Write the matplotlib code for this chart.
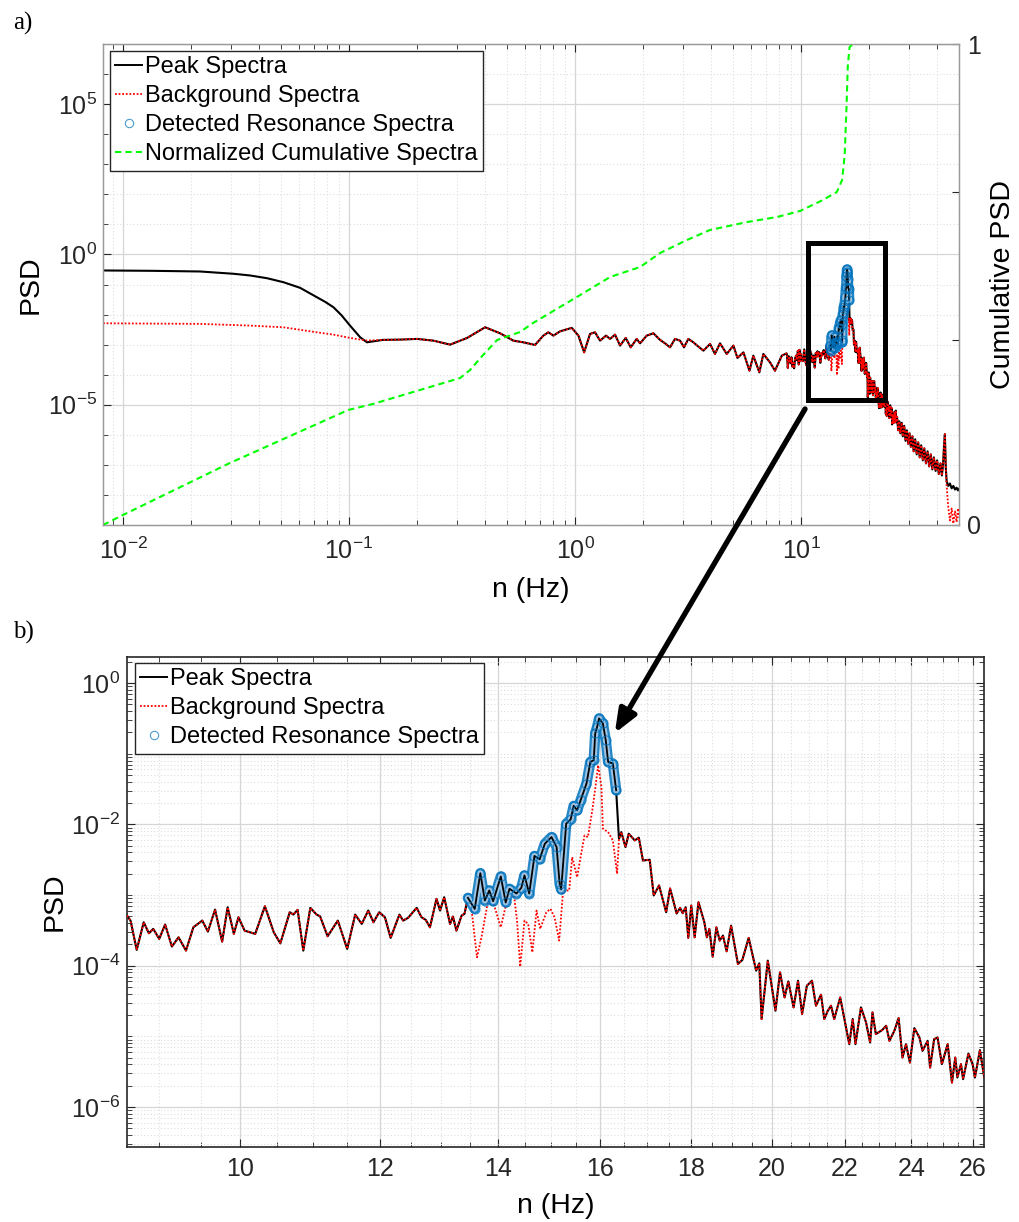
import numpy as np
import matplotlib
matplotlib.use("Agg")
import matplotlib.pyplot as plt
from matplotlib.lines import Line2D
from matplotlib.patches import Rectangle, ConnectionPatch
from matplotlib.ticker import FixedLocator, NullFormatter, NullLocator, FuncFormatter, LogLocator

plt.rcParams['font.family'] = ['Liberation Sans', 'DejaVu Sans']
plt.rcParams['mathtext.fontset'] = 'custom'
plt.rcParams['mathtext.rm'] = 'Liberation Sans'
plt.rcParams['mathtext.it'] = 'Liberation Sans:italic'
plt.rcParams['mathtext.bf'] = 'Liberation Sans:bold'

# ---------------- spectra (frequency in Hz, PSD given as log10) ----------------
# low-frequency part of the peak spectrum (only shown in the full-range panel)
f_low = np.array([0.00815, 0.0135, 0.0219, 0.0308, 0.0365, 0.0433, 0.0512, 0.0607, 0.0720, 0.0785,
                  0.0853, 0.0925, 0.101, 0.112, 0.120, 0.141, 0.168, 0.200, 0.236, 0.280,
                  0.333, 0.400, 0.466, 0.533, 0.590, 0.665, 0.724, 0.762, 0.802, 0.859,
                  0.967, 1.035, 1.097, 1.165, 1.225, 1.290, 1.371, 1.429, 1.503, 1.582,
                  1.676, 1.763, 1.874, 1.939, 2.076, 2.222, 2.378, 2.501, 2.633, 2.768,
                  2.915, 3.035, 3.171, 3.339, 3.514, 3.698, 3.958, 4.16, 4.38, 4.69,
                  5.02, 5.23, 5.56, 5.91, 6.15, 6.54, 6.81, 7.29, 7.67, 8.22])
log_peak_low = np.array([-0.533, -0.545, -0.567, -0.643, -0.700, -0.790, -0.923, -1.110, -1.423, -1.580,
                         -1.757, -2.020, -2.367, -2.757, -2.923, -2.843, -2.833, -2.810, -2.867, -3.000,
                         -2.777, -2.423, -2.623, -2.867, -2.923, -3.010, -2.700, -2.590, -2.700, -2.557,
                         -2.443, -2.700, -3.257, -2.643, -2.590, -2.867, -2.700, -2.810, -2.667, -3.033,
                         -2.777, -3.090, -2.810, -2.957, -2.700, -2.623, -2.843, -2.957, -3.090, -2.810,
                         -2.867, -3.090, -2.810, -2.923, -3.067, -3.200, -2.977, -3.310, -2.957, -3.310,
                         -3.033, -3.443, -3.257, -3.867, -3.367, -3.923, -3.310, -3.590, -3.867, -3.367])

# background spectrum where it departs from the peak spectrum at low frequency
f_bg_low = np.array([0.00815, 0.0219, 0.0365, 0.0512, 0.0720, 0.0853, 0.101, 0.120])
log_bg_low = np.array([-2.290, -2.310, -2.367, -2.423, -2.590, -2.667, -2.777, -2.867])

# zoomed band 8.6 - 26.4 Hz
f_mid = np.array([8.63, 8.67, 8.74, 8.82, 8.88, 8.93, 9.00, 9.07, 9.15, 9.23,
                  9.32, 9.41, 9.52, 9.59, 9.68, 9.77, 9.84, 9.92, 9.98, 10.06,
                  10.20, 10.33, 10.45, 10.54, 10.67, 10.72, 10.78, 10.86, 10.96, 11.05,
                  11.10, 11.21, 11.36, 11.50, 11.62, 11.72, 11.82, 11.90, 11.99, 12.08,
                  12.17, 12.31, 12.37, 12.45, 12.59, 12.67, 12.74, 12.81, 12.92, 12.98,
                  13.05, 13.15, 13.20, 13.26, 13.35, 13.40, 13.46, 13.58, 13.68, 13.76,
                  13.84, 13.91, 14.05, 14.14, 14.21, 14.34, 14.43, 14.49, 14.58, 14.68,
                  14.78, 14.88, 15.01, 15.11, 15.17, 15.20, 15.30, 15.39, 15.45, 15.52,
                  15.59, 15.71, 15.79, 15.86, 15.89, 15.93, 15.97, 16.05, 16.11, 16.16,
                  16.26, 16.33, 16.39, 16.44, 16.53, 16.60, 16.73, 16.82, 16.91, 17.06,
                  17.15, 17.27, 17.43, 17.52, 17.67, 17.75, 17.81, 17.88, 17.94, 18.01,
                  18.09, 18.18, 18.32, 18.38, 18.44, 18.52, 18.61, 18.69, 18.77, 18.86,
                  18.97, 19.14, 19.25, 19.41, 19.60, 19.68, 19.74, 19.90, 20.10, 20.22,
                  20.34, 20.44, 20.58, 20.70, 20.81, 20.94, 21.08, 21.19, 21.33, 21.42,
                  21.52, 21.61, 21.70, 21.87, 21.99, 22.13, 22.23, 22.31, 22.47, 22.62,
                  22.74, 22.81, 22.91, 23.10, 23.22, 23.32, 23.47, 23.60, 23.72, 23.83,
                  23.95, 24.09, 24.25, 24.35, 24.51, 24.59, 24.72, 24.83, 24.97, 25.16,
                  25.30, 25.41, 25.48, 25.60, 25.67, 25.85, 25.99, 26.07, 26.24, 26.39])
log_peak_mid = np.array([-3.291, -3.362, -3.777, -3.386, -3.542, -3.479, -3.621, -3.418, -3.730, -3.599,
                         -3.787, -3.457, -3.362, -3.518, -3.206, -3.660, -3.173, -3.550, -3.315, -3.504,
                         -3.550, -3.159, -3.528, -3.684, -3.244, -3.277, -3.210, -3.787, -3.182, -3.277,
                         -3.301, -3.584, -3.362, -3.763, -3.277, -3.409, -3.220, -3.386, -3.244, -3.315,
                         -3.607, -3.277, -3.362, -3.323, -3.182, -3.315, -3.352, -3.457, -3.054, -3.220,
                         -3.031, -3.409, -3.305, -3.504, -3.291, -3.267, -3.040, -3.196, -2.691, -3.078,
                         -2.936, -3.088, -2.738, -3.106, -2.912, -2.979, -2.898, -2.723, -2.979, -2.447,
                         -2.494, -2.274, -2.180, -2.322, -2.841, -2.922, -1.990, -1.929, -1.738, -1.801,
                         -1.660, -1.423, -1.116, -1.092, -0.713, -0.620, -0.501, -0.572, -0.809, -1.116,
                         -1.139, -1.518, -2.203, -2.109, -2.322, -2.132, -2.227, -2.189, -2.511, -2.501,
                         -3.007, -2.865, -3.244, -2.908, -3.262, -3.182, -3.258, -3.173, -3.607, -3.149,
                         -3.599, -3.102, -3.386, -3.599, -3.479, -3.872, -3.457, -3.645, -3.574, -3.797,
                         -3.433, -3.976, -3.919, -3.607, -4.071, -3.967, -4.756, -3.929, -4.638, -4.095,
                         -4.450, -4.223, -4.591, -4.213, -4.685, -4.284, -4.213, -4.567, -4.411, -4.756,
                         -4.638, -4.567, -4.756, -4.450, -4.756, -5.111, -4.756, -5.111, -4.591, -4.804,
                         -5.088, -4.662, -4.969, -4.912, -4.851, -5.064, -4.922, -4.742, -5.301, -5.111,
                         -5.372, -4.884, -5.017, -5.206, -5.064, -5.443, -5.040, -5.017, -5.394, -5.111,
                         -5.655, -5.301, -5.584, -5.394, -5.607, -5.244, -5.394, -5.584, -5.196, -5.584])

# background spectrum under the resonance
f_res = np.array([13.52, 13.62, 13.70, 13.82, 13.92, 14.05, 14.12, 14.18, 14.28, 14.35,
                  14.41, 14.49, 14.56, 14.64, 14.72, 14.79, 14.91, 14.99, 15.07, 15.16,
                  15.24, 15.36, 15.42, 15.52, 15.59, 15.67, 15.74, 15.83, 15.90, 15.95,
                  16.02, 16.05, 16.16, 16.26, 16.35])
log_bg_res = np.array([-3.173, -3.882, -3.599, -3.078, -3.125, -3.457, -3.220, -3.031, -2.912, -3.362,
                       -4.014, -3.362, -3.409, -3.811, -3.220, -3.479, -3.244, -3.196, -3.315, -3.645,
                       -2.936, -2.936, -2.464, -2.748, -2.464, -2.156, -2.180, -1.801, -1.447, -1.163,
                       -1.471, -2.061, -2.109, -2.227, -2.699])

# detected resonance band
res_lo, res_hi = 13.45, 16.34

# high-frequency tail up to Nyquist
f_high = np.array([26.6, 26.9, 27.2, 27.5, 27.9, 28.2, 28.6, 29.0, 29.4, 29.8,
                   30.2, 30.6, 31.1, 31.5, 32.0, 32.5, 33.0, 33.5, 34.0, 34.6,
                   35.1, 35.7, 36.3, 36.9, 37.5, 38.1, 38.7, 39.4, 40.0, 40.7,
                   41.4, 42.0, 42.5, 42.9, 43.3, 43.7, 44.1, 44.8, 45.6, 46.4,
                   47.2, 48.0, 48.8, 49.5, 50.0])
log_peak_high = np.array([-5.40, -5.85, -5.55, -5.95, -5.60, -6.05, -5.70, -6.20, -5.85, -6.30,
                          -5.95, -6.40, -6.05, -6.55, -6.15, -6.65, -6.25, -6.75, -6.35, -6.85,
                          -6.45, -6.95, -6.55, -7.05, -6.65, -7.15, -6.75, -7.20, -6.85, -7.30,
                          -6.95, -7.35, -7.00, -6.40, -5.98, -7.10, -7.55, -7.70, -7.62, -7.78,
                          -7.70, -7.82, -7.76, -7.85, -7.80])
f_bg_tail = np.array([44.1, 44.8, 45.6, 46.4, 47.2, 48.0, 48.8, 49.5, 50.0])
log_bg_tail = np.array([-7.70, -8.40, -8.85, -8.45, -8.95, -8.55, -8.90, -8.45, -8.75])

# normalized cumulative spectrum (right axis, log10)
f_cum = np.array([0.00815, 0.01, 0.0297, 0.0991, 0.1277, 0.31, 0.343, 0.392, 0.452, 0.571,
                  0.652, 1.02, 1.43, 1.94, 2.38, 3.13, 3.95, 5.77, 7.83, 9.91,
                  12.5, 14.4, 15.2, 15.6, 15.9, 16.1, 16.4, 17.0, 50.0])
log_cum = np.array([-3.25, -3.182, -2.831, -2.473, -2.432, -2.257, -2.203, -2.101, -2.0, -1.946,
                    -1.885, -1.709, -1.574, -1.507, -1.412, -1.324, -1.257, -1.203, -1.169, -1.128,
                    -1.054, -1.0, -0.919, -0.75, -0.42, -0.15, -0.02, 0.0, 0.0])

# ---------------- assemble series ----------------
keep_lo = f_mid < f_res[0]
keep_hi = f_mid > f_res[-1]
f_bg_mid = np.concatenate([f_mid[keep_lo], f_res, f_mid[keep_hi]])
log_bg_mid = np.concatenate([log_peak_mid[keep_lo], log_bg_res, log_peak_mid[keep_hi]])

det = (f_mid >= res_lo) & (f_mid <= res_hi)
f_det, psd_det = f_mid[det], 10.0 ** log_peak_mid[det]

f_top = np.concatenate([f_low, f_mid, f_high])
psd_top = 10.0 ** np.concatenate([log_peak_low, log_peak_mid, log_peak_high])

lo_rest = f_low > f_bg_low[-1]
hi_rest = f_high < f_bg_tail[0]
f_bg_top = np.concatenate([f_bg_low, f_low[lo_rest], f_bg_mid, f_high[hi_rest], f_bg_tail])
bg_top = 10.0 ** np.concatenate([log_bg_low, log_peak_low[lo_rest], log_bg_mid,
                                 log_peak_high[hi_rest], log_bg_tail])

BLUE = '#0072BD'
TXT = '#262626'
GRID_MAJ = '#d6d6d6'
GRID_MIN = '#dedede'
TICK_FS = 18
LABEL_FS = 20.5


def decade_label(v, pos):
    return r'$\mathregular{10^{%d}}$' % int(round(np.log10(v)))


def draw_spectra(ax, f_pk, pk, f_bg, bg):
    ax.plot(f_pk, pk, color='k', lw=1.5, zorder=2, solid_joinstyle='round')
    ax.plot(f_bg, bg, color='#ff0000', lw=1.3, dashes=(1, 1), zorder=3)
    # detected resonance: band of overlapping circles with the peak trace on top
    ax.plot(f_det, psd_det, color=BLUE, lw=7.5, alpha=0.85, zorder=4,
            solid_capstyle='round', solid_joinstyle='round')
    ax.plot(f_det, psd_det, color='#9cc3e4', lw=4.2, zorder=4.1,
            solid_capstyle='round', solid_joinstyle='round')
    ax.plot(f_det, psd_det, color='k', lw=1.3, zorder=4.2, solid_joinstyle='round')
    ax.plot(f_det, psd_det, 'o', mfc='none', mec=BLUE, ms=6.5, mew=0.8, alpha=0.8, zorder=4.3)


def grid_and_ticks(ax, spine_color):
    for s in ax.spines.values():
        s.set_color(spine_color)
        s.set_linewidth(1.0)
    ax.tick_params(which='both', direction='in', top=True, color=TXT,
                   labelcolor=TXT, labelsize=TICK_FS)
    ax.tick_params(which='major', length=6)
    ax.tick_params(which='minor', length=3.5)
    ax.grid(True, which='major', color=GRID_MAJ, lw=0.9, ls='-')
    ax.grid(True, which='minor', color=GRID_MIN, lw=0.8, ls=(0, (1, 2)))
    ax.set_axisbelow(True)


fig = plt.figure(figsize=(10.19, 12.22), dpi=100)
fig.patch.set_facecolor('white')

# ---------------- a) full spectrum ----------------
ax1 = fig.add_axes([103 / 1019, 1 - 525 / 1222, 856 / 1019, 481 / 1222])
ax1.set_xscale('log')
ax1.set_yscale('log')
draw_spectra(ax1, f_top, psd_top, f_bg_top, bg_top)
ax1.set_xlim(0.00815, 50)
ax1.set_ylim(1e-9, 1e7)
ax1.xaxis.set_major_locator(FixedLocator([1e-2, 1e-1, 1e0, 1e1]))
ax1.xaxis.set_major_formatter(FuncFormatter(decade_label))
ax1.xaxis.set_minor_locator(LogLocator(base=10, subs=np.arange(2, 10), numticks=20))
ax1.xaxis.set_minor_formatter(NullFormatter())
ax1.yaxis.set_major_locator(FixedLocator([1e-5, 1e0, 1e5]))
ax1.yaxis.set_major_formatter(FuncFormatter(decade_label))
ax1.yaxis.set_minor_locator(FixedLocator([10.0 ** k for k in range(-9, 8) if k not in (-5, 0, 5)]))
ax1.yaxis.set_minor_formatter(NullFormatter())
grid_and_ticks(ax1, '#9a9a9a')
ax1.tick_params(axis='x', which='both', pad=9)
ax1.tick_params(axis='y', which='both', pad=4)

ax1r = ax1.twinx()
ax1r.set_yscale('log')
ax1r.plot(f_cum, 10.0 ** log_cum, color='#00ff00', lw=1.5, dashes=(3, 2))
ax1r.set_ylim(10 ** -3.25, 1)
ax1r.set_yticks([10 ** -3.25, 1e-2, 1e-1, 1.0], labels=['0', '', '', '1'])
ax1r.yaxis.set_minor_locator(NullLocator())
for s in ax1r.spines.values():
    s.set_color('#9a9a9a')
ax1r.tick_params(axis='y', direction='in', length=5, color=TXT, labelcolor=TXT,
                 labelsize=TICK_FS, pad=6)

ax1.set_xlabel('n (Hz)', fontsize=LABEL_FS)
ax1.xaxis.set_label_coords(0.5, -0.108)
ax1.set_ylabel('PSD', fontsize=LABEL_FS)
ax1.yaxis.set_label_coords(-0.069, 0.5)
ax1r.set_ylabel('Cumulative PSD', fontsize=LABEL_FS)
ax1r.yaxis.set_label_coords(1.036, 0.5)

# zoom window around the resonance
ax1.add_patch(Rectangle((10.74, 1.43e-5), 23.53 - 10.74, 2.45 - 1.43e-5, fill=False,
                        ec='k', lw=3.6, joinstyle='miter', zorder=6))

h_peak = Line2D([], [], color='k', lw=1.4)
h_bg = Line2D([], [], color='#ff0000', lw=1.3, dashes=(1, 1))
h_det = Line2D([], [], ls='none', marker='o', mfc='none', mec=BLUE, ms=6, mew=0.8, alpha=0.7)
h_cum = Line2D([], [], color='#00ff00', lw=1.5, dashes=(3, 2))
leg_kw = dict(loc='upper left', borderaxespad=0, fontsize=17, frameon=True, fancybox=False,
              edgecolor=TXT, framealpha=1, handlelength=1.15, handletextpad=0.1,
              labelspacing=0.3, borderpad=0.22)
leg1 = ax1r.legend([h_peak, h_bg, h_det, h_cum],
                   ['Peak Spectra', 'Background Spectra', 'Detected Resonance Spectra',
                    'Normalized Cumulative Spectra'],
                   bbox_to_anchor=(0.0082, 0.9854), **leg_kw)
leg1.get_frame().set_linewidth(1.0)

# ---------------- b) zoom on resonance ----------------
ax2 = fig.add_axes([127 / 1019, 1 - 1147 / 1222, 857 / 1019, 490 / 1222])
ax2.set_xscale('log')
ax2.set_yscale('log')
draw_spectra(ax2, f_mid, 10.0 ** log_peak_mid, f_bg_mid, 10.0 ** log_bg_mid)
ax2.set_xlim(8.63, 26.38)
ax2.set_ylim(10 ** -6.567, 10 ** 0.369)
x_major = [10, 12, 14, 16, 18, 20, 22, 24, 26]
ax2.xaxis.set_major_locator(FixedLocator(x_major))
ax2.xaxis.set_major_formatter(FuncFormatter(lambda v, p: '%d' % round(v)))
ax2.xaxis.set_minor_locator(FixedLocator([v for v in np.arange(9.0, 26.01, 0.5) if v not in x_major]))
ax2.xaxis.set_minor_formatter(NullFormatter())
ax2.yaxis.set_major_locator(FixedLocator([1e-6, 1e-4, 1e-2, 1e0]))
ax2.yaxis.set_major_formatter(FuncFormatter(decade_label))
ax2.yaxis.set_minor_locator(LogLocator(base=10, subs=np.arange(1, 10), numticks=50))
ax2.yaxis.set_minor_formatter(NullFormatter())
grid_and_ticks(ax2, TXT)
for s in ax2.spines.values():
    s.set_linewidth(1.2)
ax2.tick_params(which='both', right=True)
ax2.tick_params(axis='x', which='both', pad=7)
ax2.tick_params(axis='y', which='both', pad=5)

ax2.set_xlabel('n (Hz)', fontsize=LABEL_FS)
ax2.xaxis.set_label_coords(0.5, -0.094)
ax2.set_ylabel('PSD', fontsize=LABEL_FS)
ax2.yaxis.set_label_coords(-0.0688, 0.5)

leg2 = ax2.legend([h_peak, h_bg, h_det],
                  ['Peak Spectra', 'Background Spectra', 'Detected Resonance Spectra'],
                  bbox_to_anchor=(0.0093, 0.9878), **leg_kw)
leg2.get_frame().set_linewidth(1.0)
leg2.set_zorder(10)

# arrow from the zoom window to the resonance peak
con = ConnectionPatch(xyA=(10.42, 10 ** -5.14), coordsA=ax1.transData,
                      xyB=(16.3, 10 ** -0.71), coordsB=ax2.transData,
                      arrowstyle='-|>,head_length=0.7,head_width=0.28', mutation_scale=20,
                      lw=3.8, color='k', shrinkA=0, shrinkB=0, zorder=20)
fig.add_artist(con)

fig.text(13 / 1019, 1 - 23 / 1222, 'a)', family=['Liberation Serif', 'DejaVu Serif'],
         fontsize=18, ha='left', va='center')
fig.text(13 / 1019, 1 - 632 / 1222, 'b)', family=['Liberation Serif', 'DejaVu Serif'],
         fontsize=18, ha='left', va='center')

fig.savefig('out.png', dpi=100, facecolor='white')
